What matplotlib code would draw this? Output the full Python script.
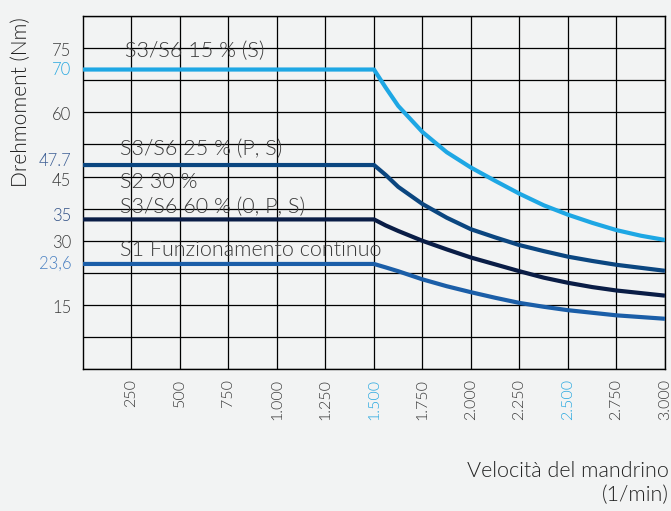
import numpy as np
import matplotlib.pyplot as plt
from matplotlib.transforms import ScaledTranslation, blended_transform_factory

# speed (1/min) vs torque (Nm)
speed = [0, 1500, 1560, 1625, 1750, 1875, 2000, 2125, 2250, 2375, 2500,
         2625, 2750, 2875, 3000]
s6_15 = [70, 70, 65.8, 61.5, 55.4, 50.7, 47.1, 44.0, 41.0, 38.3, 36.1,
         34.2, 32.5, 31.2, 30.2]
s6_25 = [47.7, 47.7, 45.4, 42.6, 38.6, 35.4, 32.7, 30.8, 29.0, 27.6, 26.3,
         25.3, 24.4, 23.7, 23.0]
s6_60 = [35, 35, 33.6, 32.3, 30.0, 28.0, 26.1, 24.5, 22.9, 21.4, 20.2,
         19.2, 18.4, 17.8, 17.2]
s1 = [24.6, 24.6, 23.8, 22.9, 21.0, 19.4, 18.0, 16.7, 15.5, 14.6, 13.8,
      13.2, 12.6, 12.2, 11.8]

curves = [s6_15, s6_25, s6_60, s1]
colors = ["#1ea7e4", "#0b4680", "#0a1d46", "#1b5ea8"]

labels = ["S3/S6 15 % (S)", "S3/S6 25 % (P, S)", "S2 30 %",
          "S3/S6 60 % (0, P, S)", "S1 Funzionamento continuo"]
label_x = [216, 190, 190, 190, 190]
label_y = [74.4, 51.5, 43.8, 37.9, 27.9]

ytick_vals = [75, 70, 60, 47.7, 45, 35, 30, 24.6, 15]
ytick_text = ["75", "70", "60", "47.7", "45", "35", "30", "23,6", "15"]
ytick_colors = ["#3a3a3a", "#29a8e0", "#3a3a3a", "#3d5f95", "#3a3a3a",
                "#2f4f85", "#3a3a3a", "#4a80c2", "#3a3a3a"]
ytick_shift = [-3, 0, -3, 4, -4, 3, -2, 0, -3]  # pixels

xticks = [250, 500, 750, 1000, 1250, 1500, 1750, 2000, 2250, 2500, 2750, 3000]
xtick_text = ["250", "500", "750", "1.000", "1.250", "1.500", "1.750",
              "2.000", "2.250", "2.500", "2.750", "3.000"]
blue_x = ["1.500", "2.500"]

plt.rcParams['font.family'] = ['Lato', 'DejaVu Sans']
plt.rcParams['font.weight'] = 300
bg = "#f2f3f3"
fig = plt.figure(figsize=(6.71, 5.11), dpi=100, facecolor=bg)
ax = fig.add_axes([0.1237, 0.2773, 0.8673, 0.6914])
ax.set_facecolor(bg)

ax.set_xlim(0, 3000)
ax.set_ylim(0, 82.5)

# grid
ax.set_xticks(xticks)
ax.set_xticklabels(xtick_text, rotation=90, fontsize=11.5, color="#3a3a3a")
for t in ax.get_xticklabels():
    if t.get_text() in blue_x:
        t.set_color("#29a8e0")
ax.set_yticks(np.arange(0, 82.6, 7.5))
ax.set_yticklabels([])
ax.tick_params(axis='both', which='both', length=0)
ax.tick_params(axis='x', pad=7)
ax.grid(True, color='black', lw=0.9)
for s in ax.spines.values():
    s.set_color('black')
    s.set_linewidth(1)

# y labels sit beside the grid, nudged so they don't collide
tr = blended_transform_factory(ax.transAxes, ax.transData)
for v, txt, c, d in zip(ytick_vals, ytick_text, ytick_colors, ytick_shift):
    ax.text(-0.02, v, txt, transform=tr + ScaledTranslation(0, d / 100, fig.dpi_scale_trans),
            ha='right', va='center', fontsize=12, color=c)

for c, col in zip(curves, colors):
    ax.plot(speed, c, color=col, lw=3, solid_capstyle='butt', zorder=3)

for txt, x, y in zip(labels, label_x, label_y):
    ax.text(x, y, txt, fontsize=15.5, color="#3a3a3a", va='center', ha='left',
            zorder=4)

fig.text(0.032, 0.80, "Drehmoment (Nm)", rotation=90, ha='center', va='center',
         fontsize=15, fontweight=300, color="#222222")
fig.text(0.997, 0.055, "Velocità del mandrino\n(1/min)", ha='right',
         va='center', fontsize=15.5, color="#222222", linespacing=1.25)

plt.savefig("out.png", dpi=100, facecolor=bg)
